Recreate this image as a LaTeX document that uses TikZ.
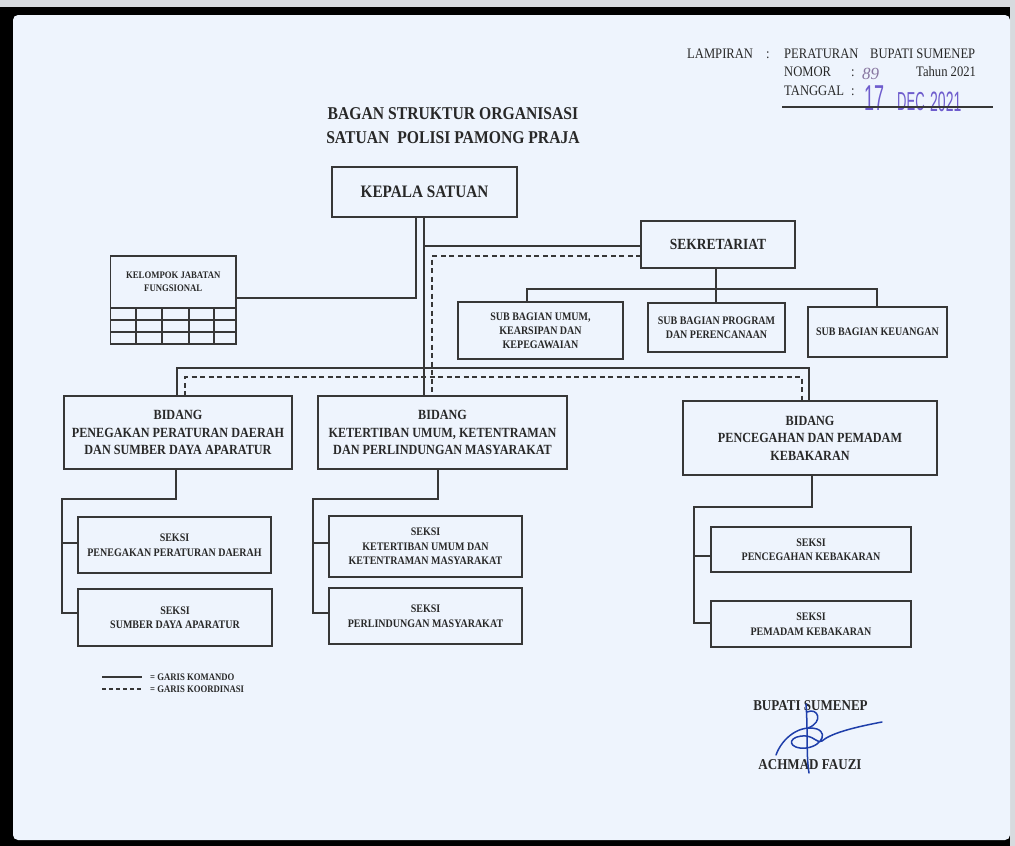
\documentclass[tikz,border=0pt]{standalone}
\usepackage{fontspec}
\setmainfont{Liberation Serif}
\newfontfamily\cf{Liberation Serif}[FakeStretch=0.87]
\newfontfamily\stampf{Liberation Sans}[FakeStretch=0.5]
\definecolor{page}{RGB}{238,244,253}
\definecolor{ink}{RGB}{40,40,40}
\definecolor{linec}{RGB}{55,55,55}
\definecolor{edgegray}{RGB}{215,218,222}
\definecolor{stampc}{RGB}{110,92,205}
\definecolor{sigc}{RGB}{30,62,170}
\definecolor{pencil}{RGB}{135,118,160}
\tikzset{
  box/.style={draw=linec, line width=1.5pt, inner sep=0pt, outer sep=0pt, align=center, text=ink},
  conn/.style={draw=linec, line width=1.3pt},
  coord/.style={draw=linec, line width=1.2pt, dash pattern=on 5pt off 3.5pt},
  fkep/.style={font=\cf\bfseries\fontsize{17.5}{21}\selectfont},
  fsek/.style={font=\cf\bfseries\fontsize{15.5}{19}\selectfont},
  fbid/.style={font=\cf\bfseries\fontsize{14}{17.5}\selectfont},
  fsub/.style={font=\cf\bfseries\fontsize{11.5}{14}\selectfont},
  fsks/.style={font=\cf\bfseries\fontsize{11.5}{14.5}\selectfont},
  fkel/.style={font=\cf\bfseries\fontsize{10}{13}\selectfont},
  fleg/.style={font=\cf\bfseries\fontsize{10}{12}\selectfont, text=ink, inner sep=0pt, anchor=west},
  fhdr/.style={font=\cf\fontsize{14.5}{17}\selectfont, text=ink, inner sep=0pt, anchor=base west},
  ftit/.style={font=\cf\bfseries\fontsize{18}{22}\selectfont, text=ink, inner sep=0pt, anchor=base},
  fsig/.style={font=\cf\bfseries\fontsize{15}{18}\selectfont, text=ink, inner sep=0pt, anchor=base},
  fstamp/.style={text=stampc, inner sep=0pt, anchor=base west},
  sigline/.style={draw=sigc, line width=1.5pt, line cap=round, line join=round},
}
\begin{document}
\begin{tikzpicture}[x=1pt,y=-1pt]
\useasboundingbox (0,0) rectangle (1015,846);
% scanned page and frame
\fill[black] (0,0) rectangle (1015,846);
\fill[edgegray] (0,0) rectangle (1015,7);
\fill[edgegray] (1010,0) rectangle (1015,846);
\fill[page, rounded corners=5pt] (13,15) rectangle (1010,840);

% header
\node[fhdr] (lamp) at (687,58) {LAMPIRAN};
\node[fhdr] (lampc) at (766,58) {:};
\node[fhdr] (perat) at (784,58) {PERATURAN};
\node[fhdr] (bupati) at (870,58) {BUPATI SUMENEP};
\node[fhdr] (nomor) at (784,76) {NOMOR};
\node[fhdr] (nomorc) at (851,76) {:};
\node[font=\itshape\fontsize{17}{17}\selectfont, text=pencil, inner sep=0pt, anchor=base west] (nomval) at (862,79) {89};
\node[fhdr] (tahun) at (916,76) {Tahun 2021};
\node[fhdr] (tgl) at (784,95) {TANGGAL};
\node[fhdr] (tglc) at (851,95) {:};
\node[fstamp, font=\stampf\fontsize{36}{36}\selectfont] (st1) at (864,110) {17};
\node[fstamp, font=\stampf\fontsize{26}{26}\selectfont] (st2) at (897,110) {DEC};
\node[fstamp, font=\stampf\fontsize{28}{28}\selectfont] (st3) at (930,111) {2021};
\coordinate (ulA) at (782,107);
\coordinate (ulB) at (993,107);
\draw[draw=linec, line width=1.3pt] (ulA) -- (ulB);

% title
\node[ftit] (tit1) at (453,119) {BAGAN STRUKTUR ORGANISASI};
\node[ftit] (tit2) at (453,143) {SATUAN\ \ POLISI PAMONG PRAJA};

% boxes
\node[box, fkep, minimum width=185pt, minimum height=50pt] (kepala) at (424.5,192) {KEPALA SATUAN};
\node[box, fsek, minimum width=154pt, minimum height=47pt] (sekr) at (718,244.5) {SEKRETARIAT};
\node[box, fkel, minimum width=125.5pt, minimum height=52pt] (kel) at (173.25,282) {KELOMPOK JABATAN\\FUNGSIONAL};
% grid below kelompok
\draw[box] (kel.south west) rectangle (236,344);
\draw[conn] (110.5,320) -- (236,320);
\draw[conn] (110.5,332) -- (236,332);
\foreach \gx in {136,162,189,214} { \draw[conn] (\gx,308) -- (\gx,344); }

\node[box, fsub, minimum width=165pt, minimum height=57pt] (sb1) at (540.5,330.5) {SUB BAGIAN UMUM,\\KEARSIPAN DAN\\KEPEGAWAIAN};
\node[box, fsub, minimum width=137pt, minimum height=49pt] (sb2) at (716.5,327.5) {SUB BAGIAN PROGRAM\\DAN PERENCANAAN};
\node[box, fsub, minimum width=139pt, minimum height=50pt] (sb3) at (877.5,332) {SUB BAGIAN KEUANGAN};

\node[box, fbid, minimum width=228pt, minimum height=73pt] (b1) at (178,432.5) {BIDANG\\PENEGAKAN PERATURAN DAERAH\\DAN SUMBER DAYA APARATUR};
\node[box, fbid, minimum width=249pt, minimum height=73pt] (b2) at (442.5,432.5) {BIDANG\\KETERTIBAN UMUM, KETENTRAMAN\\DAN PERLINDUNGAN MASYARAKAT};
\node[box, fbid, minimum width=254pt, minimum height=74pt] (b3) at (810,438) {BIDANG\\PENCEGAHAN DAN PEMADAM\\KEBAKARAN};

\node[box, fsks, minimum width=193pt, minimum height=56pt] (s1) at (174.5,545) {SEKSI\\PENEGAKAN PERATURAN DAERAH};
\node[box, fsks, minimum width=194pt, minimum height=57pt] (s2) at (175,617.5) {SEKSI\\SUMBER DAYA APARATUR};
\node[box, fsks, minimum width=193pt, minimum height=61pt] (s3) at (425.5,546.5) {SEKSI\\KETERTIBAN UMUM DAN\\KETENTRAMAN MASYARAKAT};
\node[box, fsks, minimum width=193pt, minimum height=56pt] (s4) at (425.5,616) {SEKSI\\PERLINDUNGAN MASYARAKAT};
\node[box, fsks, minimum width=200pt, minimum height=45pt] (s5) at (811,549.5) {SEKSI\\PENCEGAHAN KEBAKARAN};
\node[box, fsks, minimum width=200pt, minimum height=46pt] (s6) at (811,624) {SEKSI\\PEMADAM KEBAKARAN};

% command lines
\draw[conn] (kepala.south -| 416,0) |- (kel.east |- 0,298);
\draw[conn] (kepala.south -| 424,0) -- (b2.north -| 424,0);
\draw[conn] (424,246) -- (sekr.west |- 0,246);
\draw[conn] (b1.north -| 177,0) -- (177,368) -- (809,368) -- (b3.north -| 809,0);
\draw[conn] (sekr.south -| 716,0) -- (sb2.north -| 716,0);
\draw[conn] (sb1.north -| 527,0) -- (527,289) -- (877,289) -- (sb3.north -| 877,0);
\draw[conn] (b1.south -| 176,0) -- (176,499) -- (62,499) -- (62,613) -- (s2.west |- 0,613);
\draw[conn] (62,543) -- (s1.west |- 0,543);
\draw[conn] (b2.south -| 438,0) -- (438,499) -- (313,499) -- (313,613) -- (s4.west |- 0,613);
\draw[conn] (313,543) -- (s3.west |- 0,543);
\draw[conn] (b3.south -| 812,0) -- (812,507) -- (694,507) -- (694,623) -- (s6.west |- 0,623);
\draw[conn] (694,556) -- (s5.west |- 0,556);

% coordination lines
\draw[coord] (sekr.west |- 0,256) -| (b2.north -| 432,0);
\draw[coord] (b1.north -| 185,0) -- (185,377) -- (802,377) -- (b3.north -| 802,0);

% legend
\draw[conn] (102,677) -- (142,677);
\draw[coord, dash pattern=on 4pt off 3pt] (102,689) -- (142,689);
\node[fleg] (leg1) at (150,677) {= GARIS KOMANDO};
\node[fleg] (leg2) at (150,689) {= GARIS KOORDINASI};

% signature block
\node[fsig] (bup) at (810.5,710) {BUPATI SUMENEP};
\node[fsig] (ach) at (810,769) {ACHMAD FAUZI};
\draw[sigline] (806,704) .. controls (808,730) and (806,755) .. (809,773);
\draw[sigline] (807,712) .. controls (818,707) and (824,722) .. (808,728);
\draw[sigline] (776,755) .. controls (782,738) and (800,724) .. (817,729) .. controls (830,734) and (818,750) .. (800,748) .. controls (786,746) and (790,735) .. (806,736) .. controls (815,737) and (818,744) .. (822,741) .. controls (830,734) and (850,728) .. (882,722);
\end{tikzpicture}
\end{document}
